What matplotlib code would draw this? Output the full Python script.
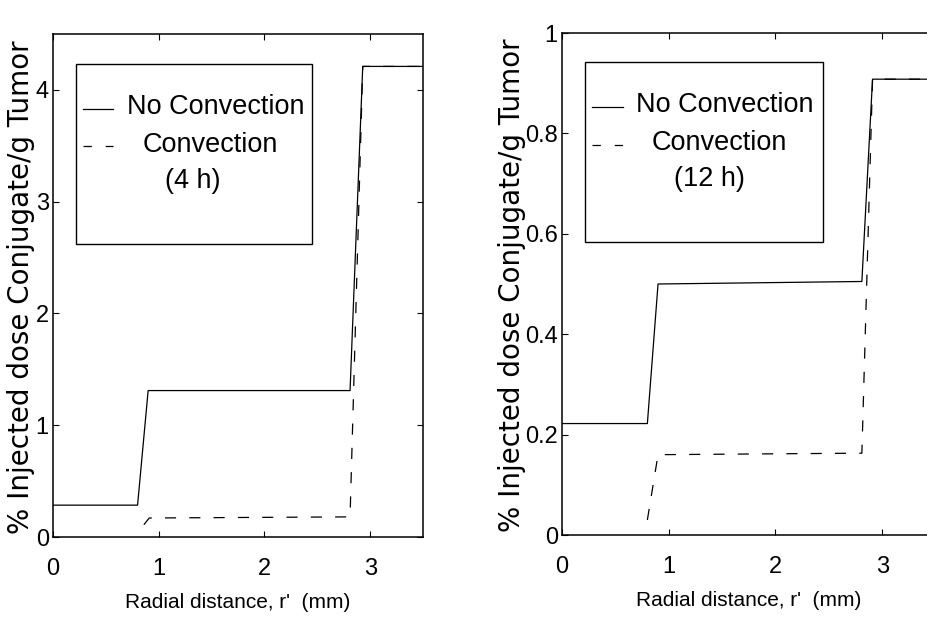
import matplotlib
matplotlib.use("Agg")
import matplotlib.pyplot as plt
from matplotlib.patches import Rectangle
from matplotlib.lines import Line2D

plt.rcParams['lines.scale_dashes'] = False

narrow = ['Liberation Sans', 'DejaVu Sans']
wide = ['DejaVu Sans']

# --- data ---
# 4 h panel
r_nc_4h = [0.0, 0.80, 0.90, 2.81, 2.93, 3.5]
c_nc_4h = [0.285, 0.285, 1.31, 1.31, 4.21, 4.21]
r_cv_4h = [0.86, 0.91, 2.81, 2.93, 3.5]
c_cv_4h = [0.11, 0.17, 0.18, 4.21, 4.21]

# 12 h panel
r_nc_12h = [0.0, 0.80, 0.90, 2.81, 2.91, 3.5]
c_nc_12h = [0.222, 0.222, 0.50, 0.505, 0.908, 0.908]
r_cv_12h = [0.80, 0.90, 2.81, 2.91, 3.5]
c_cv_12h = [0.03, 0.16, 0.163, 0.908, 0.908]

x_ticks = [0, 1, 2, 3]
y_ticks_4h = [0, 1, 2, 3, 4]
y_ticks_12h = [0, 0.2, 0.4, 0.6, 0.8, 1.0]
y_labels_12h = ['0', '0.2', '0.4', '0.6', '0.8', '1']

xlabel = "Radial distance, r'  (mm)"
ylabel = "% Injected dose Conjugate/g Tumor"
leg_lines = ["No Convection", "Convection"]

dash = (0, (8, 9.5))
lw = 0.9

fig = plt.figure(figsize=(9.27, 6.21), dpi=100)
ax1 = fig.add_axes([53/927, 84/621, 370/927, 503/621])
ax2 = fig.add_axes([562/927, 86/621, 373.5/927, 502/621])


def style_axes(ax, ylab_x):
    ax.set_xlim(0, 3.5)
    ax.set_xticks(x_ticks)
    ax.set_xticklabels([str(t) for t in x_ticks], family=narrow, fontsize=17)
    ax.tick_params(direction='in', length=4, width=0.8, top=True, right=True)
    ax.tick_params(axis='x', pad=15)
    ax.tick_params(axis='y', pad=3)
    for s in ax.spines.values():
        s.set_linewidth(1.1)
    ax.set_xlabel(xlabel, family=narrow, fontsize=15, va='center')
    ax.xaxis.set_label_coords(0.5, -0.131)
    ax.set_ylabel(ylabel, family=wide, fontsize=20, va='center')
    ax.yaxis.set_label_coords(ylab_x, 0.497)


def draw_legend(ax, box, texts, ys, xs, line_y):
    x0, y0, x1, y1 = box
    ax.add_patch(Rectangle((x0, y0), x1 - x0, y1 - y0, transform=ax.transAxes,
                           fill=False, edgecolor='black', linewidth=1.0,
                           zorder=5))
    for t, yy, xx in zip(texts, ys, xs):
        ax.text(xx, yy, t, transform=ax.transAxes, ha='center', va='baseline',
                family=narrow, fontsize=19.5, zorder=6)
    ax.add_line(Line2D([0.081, 0.162], [line_y[0]] * 2, transform=ax.transAxes,
                       color='black', lw=lw, zorder=6))
    ax.add_line(Line2D([0.081, 0.162], [line_y[1]] * 2, transform=ax.transAxes,
                       color='black', lw=lw, linestyle=(0, (6, 10)), zorder=6))


# left panel (4 h)
ax1.plot(r_nc_4h, c_nc_4h, color='black', lw=lw)
ax1.plot(r_cv_4h, c_cv_4h, color='black', lw=lw, linestyle=dash)
ax1.set_ylim(0, 4.5)
ax1.set_yticks(y_ticks_4h)
ax1.set_yticklabels([str(t) for t in y_ticks_4h], family=narrow, fontsize=17)
style_axes(ax1, -0.087)
draw_legend(ax1, (0.062, 0.5825, 0.700, 0.9404),
            leg_lines + ["(4 h)"],
            [0.841, 0.765, 0.694], [0.4405, 0.424, 0.378],
            [0.851, 0.777])

# right panel (12 h)
ax2.plot(r_nc_12h, c_nc_12h, color='black', lw=lw)
ax2.plot(r_cv_12h, c_cv_12h, color='black', lw=lw, linestyle=dash)
ax2.set_ylim(0, 1.0)
ax2.set_yticks(y_ticks_12h)
ax2.set_yticklabels(y_labels_12h, family=narrow, fontsize=17)
style_axes(ax2, -0.133)
draw_legend(ax2, (0.0616, 0.5837, 0.699, 0.942),
            leg_lines + ["(12 h)"],
            [0.843, 0.767, 0.695], [0.436, 0.420, 0.395],
            [0.8526, 0.776])

fig.savefig("out.png", dpi=100)
